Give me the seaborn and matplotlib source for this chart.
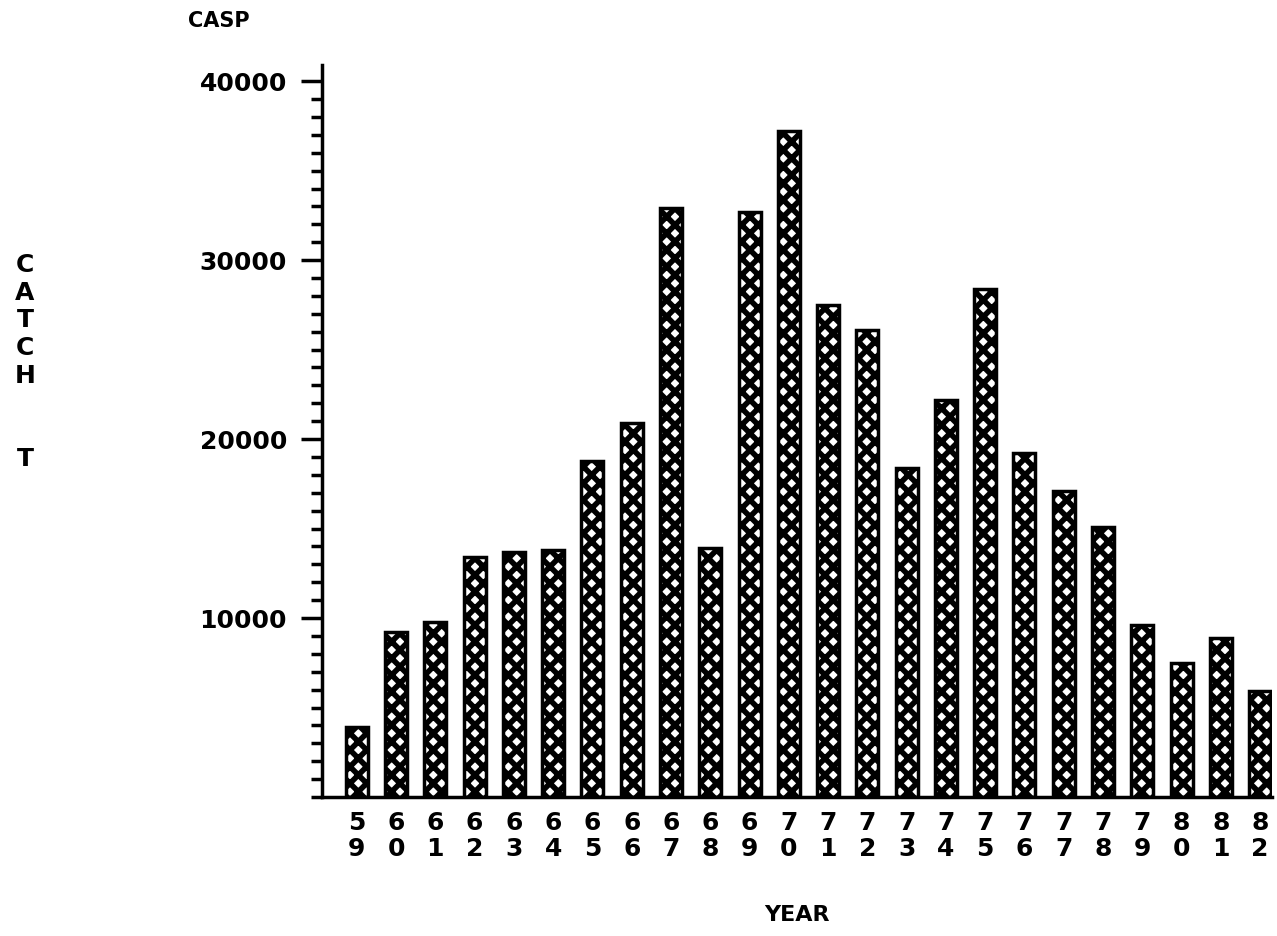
import numpy as np
import pandas as pd
import seaborn as sns
import matplotlib.pyplot as plt

# catch per year (t)
years = ['59', '60', '61', '62', '63', '64', '65', '66', '67', '68', '69', '70',
         '71', '72', '73', '74', '75', '76', '77', '78', '79', '80', '81', '82']
catch = [3900, 9200, 9800, 13400, 13700, 13800, 18800, 20900, 32900, 13900, 32700, 37200,
         27500, 26100, 18400, 22200, 28400, 19200, 17100, 15100, 9600, 7500, 8900, 5900]
tick_labels = [y[0] + '\n' + y[1] for y in years]

data = pd.DataFrame({'year': years, 'catch': catch})

sns.set_style('white')
plt.rcParams['font.family'] = ['DejaVu Sans']
plt.rcParams['font.weight'] = 'bold'
plt.rcParams['text.color'] = 'black'
plt.rcParams['xtick.color'] = 'black'
plt.rcParams['ytick.color'] = 'black'
plt.rcParams['hatch.linewidth'] = 4.0
plt.rcParams['hatch.color'] = 'black'

fig = plt.figure(figsize=(12.77, 9.36), dpi=100)
ax = fig.add_axes([0.252, 0.1485, 0.744, 0.782])

sns.barplot(x='year', y='catch', data=data, ax=ax, color='white', width=0.56,
            edgecolor='black', linewidth=2.5, hatch='xx')

ax.set_xlim(-0.89, 23.3)
ax.set_ylim(0, 40900)
ax.set_yticks([10000, 20000, 30000, 40000])
ax.set_yticklabels(['10000', '20000', '30000', '40000'], fontsize=18, fontweight='bold')
ax.set_yticks(np.arange(0, 41000, 1000), minor=True)
ax.tick_params(axis='y', which='both', left=True)
ax.tick_params(axis='y', which='major', direction='out', length=15, width=2.5, pad=10)
ax.tick_params(axis='y', which='minor', direction='out', length=8, width=2.5)
ax.set_xticks(range(len(years)))
ax.set_xticklabels(tick_labels, fontsize=18, fontweight='bold', linespacing=1.1)
ax.tick_params(axis='x', length=0, pad=10)

for side in ['top', 'right']:
    ax.spines[side].set_visible(False)
for side in ['left', 'bottom']:
    ax.spines[side].set_linewidth(2.5)
    ax.spines[side].set_color('black')

ax.set_xlabel('')
ax.set_ylabel('')

fig.text(188 / 1277, 1 - 21 / 936, 'CASP', fontsize=15, fontweight='bold', va='center', ha='left')
fig.text(797 / 1277, 1 - 915 / 936, 'YEAR', fontsize=16, fontweight='bold', va='center', ha='center')
fig.text(25 / 1277, 1 - 362 / 936, 'C\nA\nT\nC\nH\n\n\nT', fontsize=18, fontweight='bold',
         va='center', ha='center', linespacing=1.2)

plt.savefig('out.png', dpi=100)
